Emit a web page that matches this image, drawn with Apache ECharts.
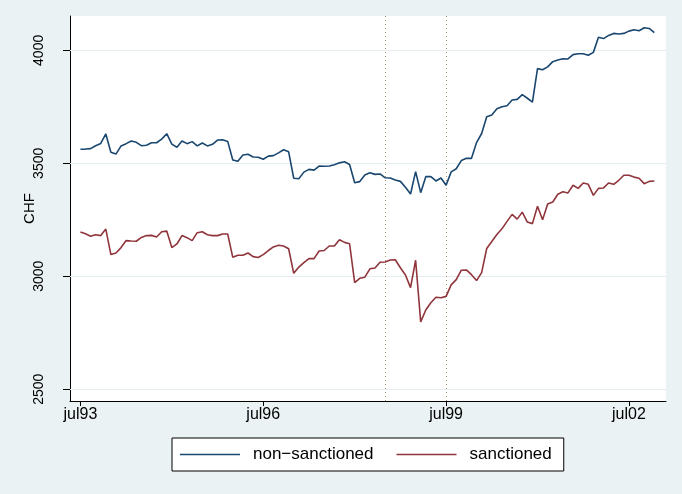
<!DOCTYPE html>
<html>
<head>
<meta charset="utf-8">
<script src="https://cdn.jsdelivr.net/npm/echarts@6/dist/echarts.min.js"></script>
<style>
  html, body { margin: 0; padding: 0; background: #EAF2F3; }
  #chart { width: 682px; height: 494px; }
</style>
</head>
<body>
<div id="chart"></div>
<script>
// Monthly average wages (CHF), July 1993 to December 2002; index 0 = jul93
const nonSanctioned = [
  3562, 3563, 3565, 3578, 3588, 3630, 3549, 3541, 3577, 3587, 3599, 3593,
  3578, 3580, 3591, 3591, 3607, 3631, 3585, 3571, 3599, 3587, 3596, 3577,
  3590, 3577, 3584, 3603, 3604, 3597, 3515, 3509, 3537, 3540, 3528, 3527,
  3518, 3532, 3534, 3546, 3560, 3551, 3434, 3432, 3461, 3473, 3470, 3488,
  3487, 3488, 3494, 3502, 3507, 3495, 3414, 3419, 3448, 3458, 3451, 3453,
  3436, 3435, 3426, 3420, 3394, 3364, 3463, 3370, 3441, 3441, 3422, 3435,
  3403, 3462, 3476, 3512, 3522, 3522, 3592, 3632, 3706, 3714, 3742, 3750,
  3755, 3780, 3783, 3804, 3788, 3771, 3919, 3914, 3927, 3950, 3957, 3963,
  3962, 3981, 3985, 3985, 3978, 3991, 4058, 4052, 4066, 4075, 4072, 4075,
  4085, 4091, 4087, 4100, 4097, 4078
];
const sanctioned = [
  3196, 3188, 3177, 3184, 3180, 3209, 3096, 3103, 3127, 3158, 3156, 3155,
  3172, 3180, 3181, 3174, 3197, 3200, 3127, 3143, 3180, 3171, 3158, 3193,
  3197, 3184, 3180, 3180, 3187, 3187, 3084, 3093, 3093, 3103, 3087, 3083,
  3096, 3114, 3130, 3137, 3134, 3122, 3013, 3041, 3060, 3078, 3078, 3112,
  3114, 3134, 3134, 3162, 3150, 3144, 2972, 2991, 2996, 3033, 3037, 3062,
  3063, 3072, 3073, 3038, 3006, 2950, 3071, 2798, 2851, 2883, 2907, 2905,
  2911, 2962, 2985, 3027, 3028, 3007, 2981, 3016, 3123, 3154, 3185, 3210,
  3243, 3274, 3253, 3284, 3240, 3233, 3310, 3250, 3320, 3329, 3363, 3374,
  3369, 3403, 3389, 3413, 3407, 3358, 3389, 3391, 3413, 3407, 3425, 3447,
  3447, 3439, 3434, 3410, 3420, 3422
];
const xTickMonths = [0, 36, 72, 108];
const xTickLabels = ['jul93', 'jul96', 'jul99', 'jul02'];
const yTicks = [2500, 3000, 3500, 4000];
const eventMonths = [60, 72];
const seriesNames = ['non\u2212sanctioned', 'sanctioned'];

const toPoints = arr => arr.map((v, i) => [i, v]);
const labelFor = {};
xTickMonths.forEach((m, k) => { labelFor[m] = xTickLabels[k]; });

const font = 'Liberation Sans, Arial, Helvetica, sans-serif';
const chart = echarts.init(document.getElementById('chart'), null, { renderer: 'canvas' });

chart.setOption({
  backgroundColor: '#EAF2F3',
  animation: false,
  grid: {
    left: 70, right: 16, top: 16, bottom: 93,
    show: true, backgroundColor: '#FFFFFF', borderWidth: 0
  },
  xAxis: {
    type: 'value',
    min: -2.05, max: 115.3,
    axisLine: { show: true, onZero: false, lineStyle: { color: '#000', width: 1 } },
    axisTick: { show: true, customValues: xTickMonths, length: 5, lineStyle: { color: '#000' } },
    axisLabel: {
      customValues: xTickMonths,
      formatter: v => labelFor[v] || '',
      color: '#000', fontSize: 16, fontFamily: font, margin: 6
    },
    splitLine: { show: false }
  },
  yAxis: {
    type: 'value',
    min: 2448, max: 4152,
    name: 'CHF',
    nameLocation: 'middle',
    nameGap: 33,
    nameMoveOverlap: false,
    nameRotate: 90,
    nameTextStyle: { color: '#000', fontSize: 15, fontFamily: font },
    axisLine: { show: true, onZero: false, lineStyle: { color: '#000', width: 1 } },
    axisTick: { show: true, customValues: yTicks, length: 7, lineStyle: { color: '#000' } },
    axisLabel: {
      customValues: yTicks,
      formatter: v => String(v),
      rotate: 90,
      color: '#000', fontSize: 14, fontFamily: font, margin: 24
    },
    splitLine: { show: false }
  },
  legend: {
    data: seriesNames,
    left: 172, top: 438,
    backgroundColor: '#FFFFFF',
    borderColor: '#000', borderWidth: 1,
    padding: [7, 12, 7, 8],
    icon: 'rect',
    itemWidth: 60, itemHeight: 1.6, itemGap: 23,
    textStyle: { color: '#000', fontSize: 17, fontFamily: font, padding: [0, 0, 0, 8], lineHeight: 19 }
  },
  series: [
    {
      name: seriesNames[0],
      type: 'line',
      data: toPoints(nonSanctioned),
      symbol: 'none',
      lineStyle: { color: '#1A476F', width: 1.6 },
      itemStyle: { color: '#1A476F' },
      z: 5,
      markLine: {
        silent: true, symbol: 'none', label: { show: false },
        animation: false,
        data: yTicks.map(v => ({ yAxis: v, lineStyle: { color: '#E4EEF0', type: 'solid', width: 1.2 } }))
          .concat(eventMonths.map(m => ({ xAxis: m, lineStyle: { color: '#A89270', type: [1, 3], width: 1 } })))
      }
    },
    {
      name: seriesNames[1],
      type: 'line',
      data: toPoints(sanctioned),
      symbol: 'none',
      lineStyle: { color: '#90353B', width: 1.6 },
      itemStyle: { color: '#90353B' },
      z: 5
    }
  ]
});
</script>
</body>
</html>
